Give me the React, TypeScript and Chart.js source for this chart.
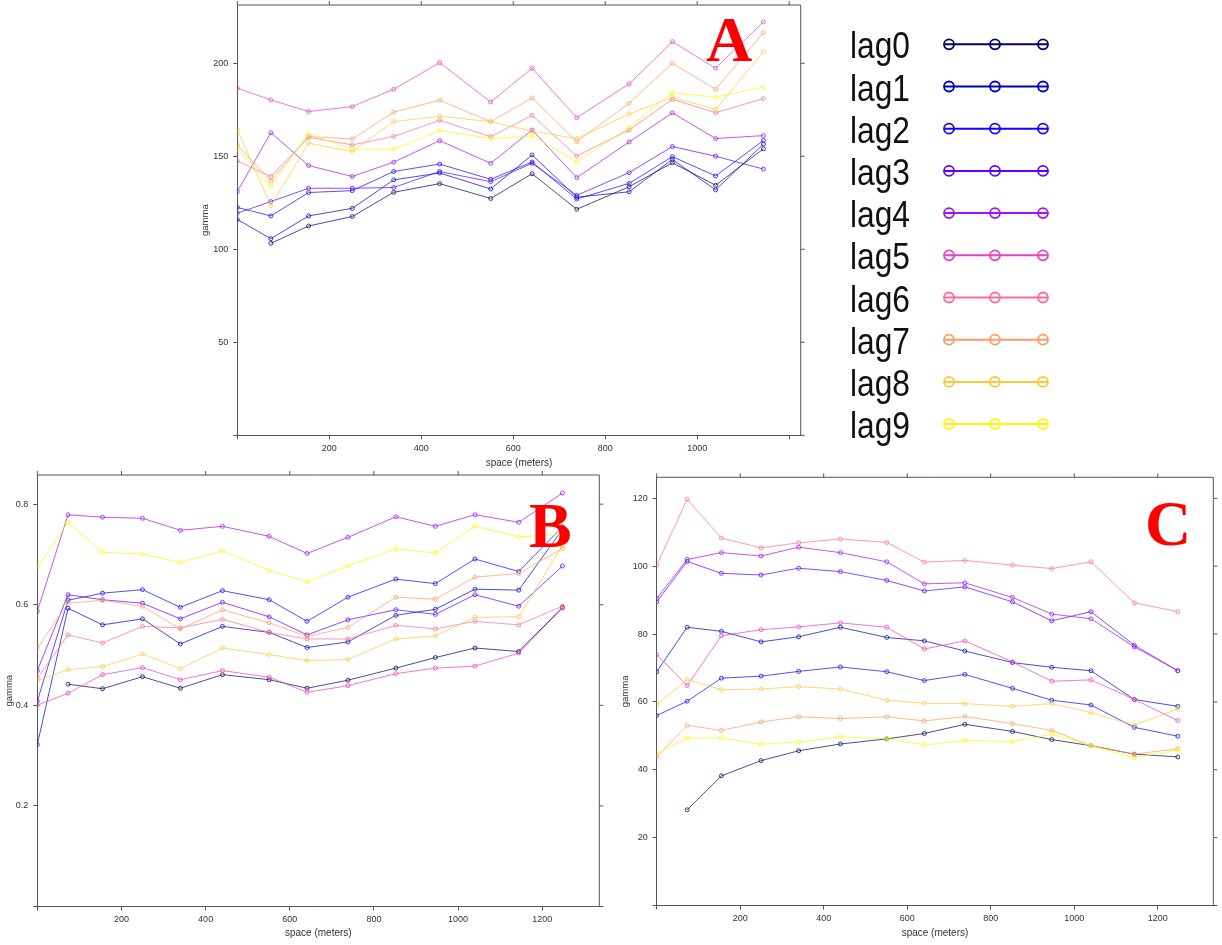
import React, { useEffect, useRef } from "react";
import { Chart, registerables } from "chart.js";

Chart.register(...registerables);

// ---------- data ----------
const LAGS = ["lag0", "lag1", "lag2", "lag3", "lag4", "lag5", "lag6", "lag7", "lag8", "lag9"];
const COLORS = ["#000066", "#0000C1", "#1600FF", "#5D00FF", "#A412ED", "#EB3FC0", "#FF6D92", "#FF9A65", "#FFC738", "#FFF50A"];

// spatial distance bins (meters)
const DIST_A = [0, 73, 155, 250, 340, 440, 551, 641, 738, 852, 946, 1040, 1144];
const DIST_BC = [0, 73, 155, 250, 340, 440, 551, 641, 738, 852, 946, 1040, 1144, 1248];

const GAMMA_A: (number | null)[][] = [
  [null, 103.2, 112.5, 117.6, 130.6, 135.3, 127.3, 140.6, 121.5, 133.6, 146.5, 134.4, 154.0],
  [116.0, 105.7, 117.9, 122.0, 137.3, 141.0, 132.4, 150.7, 128.0, 130.9, 148.3, 131.9, 156.5],
  [122.5, 117.9, 130.5, 131.5, 141.8, 145.8, 137.6, 146.9, 127.0, 135.4, 149.8, 139.4, 158.5],
  [119.4, 125.6, 132.8, 132.8, 133.2, 141.8, 136.3, 146.2, 129.0, 141.2, 155.2, 150.0, 143.1],
  [131.0, 162.7, 145.0, 139.1, 146.8, 158.4, 146.2, 164.1, 138.5, 157.7, 173.3, 159.5, 161.1],
  [186.6, 180.3, 174.0, 176.7, 186.0, 200.3, 179.2, 197.3, 170.7, 188.9, 211.6, 197.3, 222.2],
  [147.5, 139.1, 160.2, 156.1, 160.6, 169.3, 160.5, 172.0, 150.1, 164.1, 180.6, 173.4, 181.0],
  [156.1, 136.7, 160.6, 159.3, 173.7, 180.1, 168.6, 181.3, 157.8, 178.5, 200.0, 186.0, 216.5],
  [164.2, 123.5, 157.0, 152.5, 168.6, 171.5, 168.6, 163.5, 159.5, 172.7, 181.7, 175.2, 206.2],
  [154.0, 133.7, 162.0, 153.8, 153.8, 163.8, 159.5, 161.0, 147.1, 165.4, 184.2, 181.7, 187.2],
];

const GAMMA_B: (number | null)[][] = [
  [null, 0.442, 0.433, 0.457, 0.434, 0.461, 0.451, 0.434, 0.450, 0.474, 0.495, 0.514, 0.507, 0.595],
  [0.322, 0.593, 0.560, 0.572, 0.522, 0.557, 0.545, 0.515, 0.526, 0.579, 0.591, 0.631, 0.629, 0.750],
  [0.408, 0.609, 0.623, 0.630, 0.595, 0.628, 0.610, 0.567, 0.615, 0.651, 0.642, 0.691, 0.666, 0.755],
  [0.469, 0.620, 0.610, 0.603, 0.572, 0.605, 0.576, 0.540, 0.570, 0.590, 0.581, 0.620, 0.597, 0.677],
  [0.587, 0.779, 0.774, 0.772, 0.748, 0.756, 0.736, 0.702, 0.734, 0.775, 0.756, 0.779, 0.764, 0.822],
  [0.400, 0.424, 0.461, 0.475, 0.451, 0.469, 0.456, 0.426, 0.439, 0.463, 0.474, 0.478, 0.504, 0.593],
  [0.454, 0.540, 0.524, 0.557, 0.554, 0.571, 0.545, 0.532, 0.532, 0.559, 0.552, 0.567, 0.560, 0.597],
  [0.514, 0.603, 0.609, 0.597, 0.552, 0.590, 0.564, 0.537, 0.555, 0.615, 0.611, 0.655, 0.662, 0.712],
  [0.449, 0.471, 0.477, 0.502, 0.473, 0.514, 0.501, 0.489, 0.491, 0.532, 0.538, 0.575, 0.576, 0.718],
  [0.674, 0.764, 0.704, 0.701, 0.684, 0.707, 0.668, 0.646, 0.677, 0.711, 0.703, 0.756, 0.735, 0.740],
];

const GAMMA_C: (number | null)[][] = [
  [null, 28.2, 38.2, 42.7, 45.6, 47.6, 49.1, 50.7, 53.4, 51.3, 48.9, 47.1, 44.6, 43.8],
  [68.9, 82.0, 80.8, 77.7, 79.2, 82.0, 79.0, 78.0, 75.0, 71.6, 70.2, 69.2, 60.7, 58.7],
  [56.0, 60.2, 67.0, 67.6, 69.0, 70.3, 68.9, 66.3, 68.1, 64.0, 60.5, 59.1, 52.5, 49.9],
  [89.5, 101.4, 97.9, 97.4, 99.4, 98.4, 95.8, 92.7, 93.9, 89.5, 83.9, 86.6, 76.7, 69.2],
  [90.5, 102.0, 104.0, 103.0, 105.6, 104.0, 101.3, 94.8, 95.1, 90.8, 85.9, 84.5, 76.2, 69.2],
  [74.0, 64.8, 79.5, 81.3, 82.1, 83.3, 82.0, 75.6, 78.0, 71.8, 66.1, 66.5, 60.7, 54.5],
  [100.3, 119.7, 108.3, 105.4, 106.9, 108.0, 107.0, 101.2, 101.7, 100.3, 99.3, 101.3, 89.2, 86.6],
  [43.8, 53.1, 51.6, 54.1, 55.6, 55.1, 55.6, 54.4, 55.7, 53.6, 51.6, 47.1, 44.6, 46.2],
  [59.2, 66.6, 63.6, 63.8, 64.5, 63.8, 60.5, 59.6, 59.5, 58.7, 59.5, 56.8, 53.2, 57.9],
  [44.8, 49.3, 49.4, 47.5, 48.2, 49.7, 49.2, 47.3, 48.7, 48.3, 50.5, 47.1, 43.6, 45.8],
];

const X_TICKS = [0, 200, 400, 600, 800, 1000, 1200];
const Y_TICKS_A = [0, 50, 100, 150, 200];
const Y_TICKS_B = [0, 0.2, 0.4, 0.6, 0.8];
const Y_TICKS_C = [0, 20, 40, 60, 80, 100, 120];

const X_TITLE = "space (meters)";
const Y_TITLE = "gamma";

// ---------- layout / style ----------
const W = 1222;
const H = 945;
const AXIS_COLOR = "#555555";
const TEXT_COLOR = "#333333";
const TICK_LEN = 4;
const FONT = "'Liberation Sans', Arial, sans-serif";

function hexA(hex: string, a: number) {
  const r = parseInt(hex.slice(1, 3), 16);
  const g = parseInt(hex.slice(3, 5), 16);
  const b = parseInt(hex.slice(5, 7), 16);
  return `rgba(${r},${g},${b},${a})`;
}

const framePlugin = {
  id: "frameTopRight",
  afterDraw(chart: any) {
    const { ctx, chartArea: a, scales } = chart;
    const xs = scales.x;
    const ys = scales.y;
    ctx.save();
    ctx.strokeStyle = AXIS_COLOR;
    ctx.lineWidth = 1;
    ctx.beginPath();
    ctx.moveTo(a.left, a.top);
    ctx.lineTo(a.right, a.top);
    ctx.lineTo(a.right, a.bottom);
    for (const t of xs.ticks) {
      const px = xs.getPixelForValue(t.value);
      ctx.moveTo(px, a.top);
      ctx.lineTo(px, a.top - TICK_LEN);
    }
    for (const t of ys.ticks) {
      const py = ys.getPixelForValue(t.value);
      ctx.moveTo(a.right, py);
      ctx.lineTo(a.right + TICK_LEN, py);
    }
    ctx.stroke();
    ctx.restore();
  },
};

type PanelSpec = {
  dist: number[];
  gamma: (number | null)[][];
  area: { l: number; t: number; r: number; b: number };
  xMax: number;
  yMax: number;
  yTicks: number[];
  hideX: number[];
  yDigits: number;
  yAxisW: number;
  xAxisH: number;
  yTitlePad: number;
  xTitlePad: number;
};

const PANELS: PanelSpec[] = [
  {
    dist: DIST_A, gamma: GAMMA_A,
    area: { l: 237.3, t: 5, r: 800.7, b: 435.3 },
    xMax: 1225, yMax: 231.3, yTicks: Y_TICKS_A, hideX: [0, 1200], yDigits: 0,
    yAxisW: 40, xAxisH: 40, yTitlePad: 2, xTitlePad: 5.6,
  },
  {
    dist: DIST_BC, gamma: GAMMA_B,
    area: { l: 37.3, t: 475, r: 599.3, b: 906.5 },
    xMax: 1335.5, yMax: 0.858, yTicks: Y_TICKS_B, hideX: [0], yDigits: 1,
    yAxisW: 37.3, xAxisH: 38.5, yTitlePad: 4, xTitlePad: 6,
  },
  {
    dist: DIST_BC, gamma: GAMMA_C,
    area: { l: 656.7, t: 477.3, r: 1213.3, b: 905.5 },
    xMax: 1333, yMax: 126.2, yTicks: Y_TICKS_C, hideX: [0], yDigits: 0,
    yAxisW: 40, xAxisH: 39.5, yTitlePad: 2.5, xTitlePad: 6,
  },
];

function buildConfig(p: PanelSpec): any {
  const datasets = p.gamma.map((row, i) => ({
    label: LAGS[i],
    data: row.map((g, j) => ({ x: p.dist[j], y: g })),
    borderColor: hexA(COLORS[i], 0.7),
    pointBorderColor: hexA(COLORS[i], 0.75),
    backgroundColor: "rgba(0,0,0,0)",
    pointBackgroundColor: "rgba(0,0,0,0)",
    borderWidth: 1,
    pointRadius: 2,
    pointBorderWidth: 1,
    pointStyle: "circle",
    tension: 0,
    spanGaps: false,
    clip: 0,
    order: LAGS.length - i,
  }));
  const padBottom = Math.max(0, H - p.area.b - p.xAxisH);
  return {
    type: "line",
    data: { datasets },
    options: {
      responsive: false,
      maintainAspectRatio: false,
      animation: false,
      events: [],
      layout: {
        padding: {
          left: p.area.l - p.yAxisW,
          top: p.area.t,
          right: W - p.area.r,
          bottom: padBottom,
        },
      },
      plugins: { legend: { display: false }, tooltip: { enabled: false } },
      scales: {
        x: {
          type: "linear",
          position: "bottom",
          min: 0,
          max: p.xMax,
          afterBuildTicks: (s: any) => {
            s.ticks = X_TICKS.map((v) => ({ value: v }));
          },
          afterFit: (s: any) => {
            s.height = p.xAxisH;
            s.paddingLeft = 0;
            s.paddingRight = 0;
          },
          ticks: {
            autoSkip: false,
            maxRotation: 0,
            padding: 4,
            color: TEXT_COLOR,
            font: { family: FONT, size: 9 },
            callback: (v: number) => (p.hideX.includes(v) ? "" : String(v)),
          },
          grid: { display: true, drawOnChartArea: false, drawTicks: true, tickLength: TICK_LEN, color: AXIS_COLOR },
          border: { display: true, color: AXIS_COLOR, width: 1 },
          title: {
            display: true,
            text: X_TITLE,
            color: TEXT_COLOR,
            font: { family: FONT, size: 10 },
            padding: { top: 0, bottom: p.xTitlePad },
          },
        },
        y: {
          type: "linear",
          position: "left",
          min: 0,
          max: p.yMax,
          afterBuildTicks: (s: any) => {
            s.ticks = p.yTicks.map((v) => ({ value: v }));
          },
          afterFit: (s: any) => {
            s.width = p.yAxisW;
            s.paddingTop = 0;
            s.paddingBottom = 0;
          },
          ticks: {
            autoSkip: false,
            padding: 5,
            color: TEXT_COLOR,
            font: { family: FONT, size: 9 },
            callback: (v: number) => (v === 0 ? "" : v.toFixed(p.yDigits)),
          },
          grid: { display: true, drawOnChartArea: false, drawTicks: true, tickLength: TICK_LEN, color: AXIS_COLOR },
          border: { display: true, color: AXIS_COLOR, width: 1 },
          title: {
            display: true,
            text: Y_TITLE,
            color: TEXT_COLOR,
            font: { family: FONT, size: 9.5 },
            padding: { top: p.yTitlePad, bottom: 0 },
          },
        },
      },
    },
    plugins: [framePlugin],
  };
}

function Panel({ spec }: { spec: PanelSpec }) {
  const ref = useRef<HTMLCanvasElement | null>(null);
  useEffect(() => {
    if (!ref.current) return;
    const chart = new Chart(ref.current, buildConfig(spec));
    return () => chart.destroy();
  }, [spec]);
  return (
    <canvas
      ref={ref}
      width={W}
      height={H}
      style={{ position: "absolute", left: 0, top: 0, width: W, height: H }}
    />
  );
}

const LEGEND_Y0 = 44.3;
const LEGEND_DY = 42.2;

function Legend() {
  return (
    <svg
      width={260}
      height={470}
      style={{ position: "absolute", left: 830, top: 0 }}
      viewBox="0 0 260 470"
    >
      {LAGS.map((name, i) => {
        const y = LEGEND_Y0 + i * LEGEND_DY;
        const c = COLORS[i];
        return (
          <g key={name}>
            <text
              x={20}
              y={y + 14}
              fontFamily="'Liberation Sans', Arial, sans-serif"
              fontSize={37}
              fill="#111"
              textLength={60}
              lengthAdjust="spacingAndGlyphs"
            >
              {name}
            </text>
            <line x1={115} x2={218} y1={y} y2={y} stroke={c} strokeWidth={2} />
            {[119, 165, 213].map((cx) => (
              <circle key={cx} cx={cx} cy={y} r={5} fill="none" stroke={c} strokeWidth={1.8} />
            ))}
          </g>
        );
      })}
    </svg>
  );
}

const letterStyle: React.CSSProperties = {
  position: "absolute",
  fontFamily: "'Liberation Serif', 'Times New Roman', serif",
  fontWeight: "bold",
  fontSize: 64,
  lineHeight: "64px",
  color: "#ff0000",
};

export default function App() {
  useEffect(() => {
    document.body.style.margin = "0";
  }, []);
  return (
    <div style={{ position: "absolute", left: 0, top: 0, width: W, height: H, background: "#ffffff", overflow: "hidden" }}>
      {PANELS.map((p, i) => (
        <Panel key={i} spec={p} />
      ))}
      <Legend />
      <div style={{ ...letterStyle, left: 706, top: 8 }}>A</div>
      <div style={{ ...letterStyle, left: 529, top: 494 }}>B</div>
      <div style={{ ...letterStyle, left: 1145, top: 492 }}>C</div>
    </div>
  );
}
